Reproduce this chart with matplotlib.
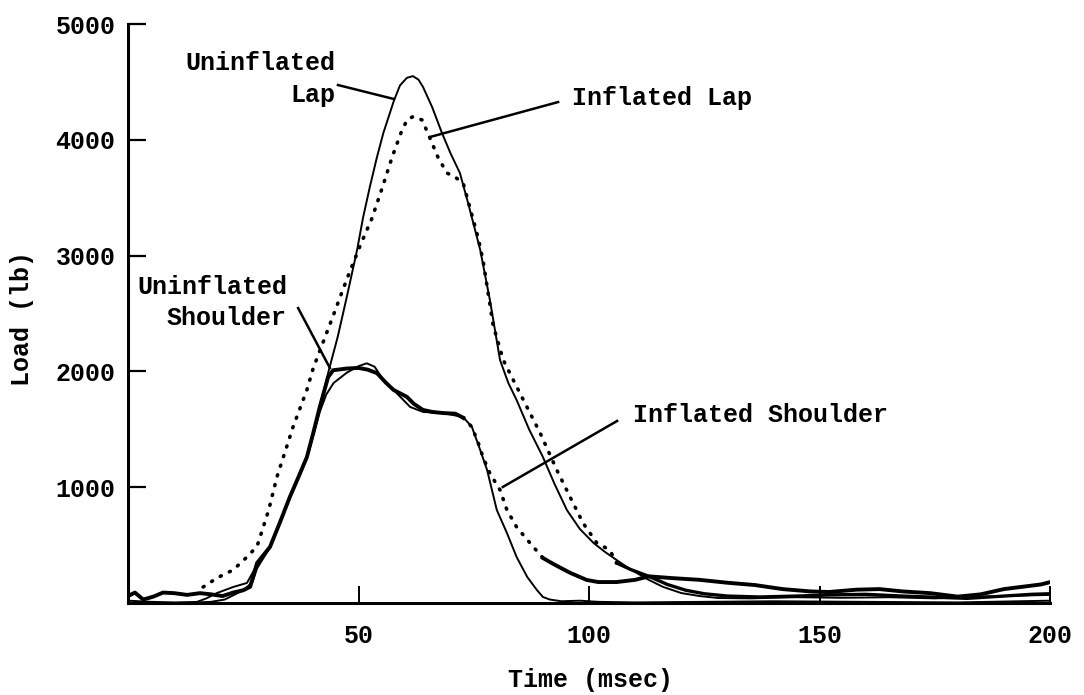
import numpy as np
import matplotlib
matplotlib.use("Agg")
import matplotlib.pyplot as plt

plt.rcParams['font.family'] = ['Liberation Mono', 'DejaVu Sans']
plt.rcParams['font.weight'] = 'bold'

# ---- data (time in msec, load in lb) ----
un_lap_t = [0, 5, 10, 15, 18, 21, 23, 25, 27, 28, 30.8, 33, 35, 37, 38.8, 40.2, 41.6, 43.5,
            45.5, 47.5, 49.7, 51, 52.5, 54, 55.4, 57.7, 59, 60.5, 61.8, 63, 64, 66, 68.1, 70,
            72, 74, 76.4, 78.5, 80.7, 82.5, 84.3, 87, 90, 92.5, 95.2, 98, 101, 103.5, 106, 109,
            113, 116, 120, 124, 128, 135, 145, 155, 165, 175, 185, 195, 200]
un_lap_L = [20, 10, 5, 5, 10, 30, 70, 110, 180, 300, 480, 700, 900, 1080, 1260, 1470, 1690, 2000,
            2300, 2650, 3050, 3330, 3600, 3850, 4060, 4340, 4470, 4535, 4550, 4520, 4456, 4280, 4059, 3880,
            3713, 3420, 3050, 2617, 2098, 1900, 1753, 1500, 1261, 1030, 803, 640, 518, 440, 371, 290,
            199, 140, 86, 60, 43, 40, 50, 45, 50, 40, 55, 65, 70]

in_lap_t = [16.3, 19.3, 22.8, 25.8, 28, 30.5, 32.3, 33.7, 35.8, 38.8, 40.2, 42.3, 44.5, 47.5,
            50.5, 52.9, 55.1, 57.3, 59.2, 60.5, 61.8, 63.8, 65.5, 67.3, 69.2, 70.9, 72.7, 75.9,
            77, 79.2, 81.4, 85, 89.4, 93, 95.9, 98.7, 101.7, 104.5, 106,
            109, 113, 117, 121, 125, 130, 137, 145, 152, 160, 168, 175, 182, 190, 196, 200]
in_lap_L = [138, 216, 285, 397, 490, 800, 1088, 1260, 1520, 1840, 2030, 2250, 2480, 2800,
            3100, 3320, 3580, 3851, 4059, 4170, 4200, 4171, 4015, 3843, 3713, 3679, 3627, 3161,
            2962, 2400, 2098, 1813, 1468, 1150, 915, 691, 518, 458, 345,
            290, 230, 160, 110, 80, 60, 52, 60, 70, 75, 60, 50, 40, 60, 75, 80]

in_sh_t = [0, 1.5, 3.3, 5.5, 7.6, 10, 12.8, 15.6, 18, 20.5, 22.8, 25, 26.5, 28, 30.8, 33, 35.1,
           37, 38.8, 40.2, 41.6, 43.4, 44.5, 47.5, 50, 52, 54, 56, 57.6, 60.5, 62, 64, 66, 68.4,
           71, 72.7, 74.6, 76, 77, 78.5, 80.7, 82.2, 84.3, 87.2, 90, 91.5, 94, 96, 99.5, 102,
           106, 110, 113, 118, 124, 130, 136, 142, 148, 152, 158, 163, 168, 174, 180, 185, 190,
           195, 198, 200]
in_sh_L = [60, 90, 30, 55, 90, 85, 70, 85, 75, 60, 90, 110, 140, 345, 484, 700, 915,
           1090, 1260, 1470, 1693, 1950, 2010, 2025, 2030, 2015, 1985, 1900, 1840, 1780, 1720, 1667, 1650, 1640,
           1635, 1600, 1520, 1380, 1260, 1120, 976, 803, 656, 518, 389, 354, 300, 259, 199, 181,
           181, 200, 230, 215, 200, 175, 155, 120, 100, 95, 115, 120, 100, 85, 55, 75, 120,
           145, 160, 180]

un_sh_t = [0, 10, 15, 17, 19.3, 22.8, 25.8, 28, 30.8, 35, 38.8, 41.6, 43, 44.6, 47.5, 50, 51.8,
           53.5, 55.4, 57.6, 61.2, 64, 68.4, 72.7, 74.6, 76.4, 77.9, 80, 82.2, 84.3, 86.6, 88.7,
           90, 91.5, 94, 98, 102, 110, 125, 140, 160, 180, 200]
un_sh_L = [0, 0, 10, 40, 86, 138, 173, 330, 480, 900, 1250, 1650, 1800, 1900, 1990, 2045, 2070,
           2040, 1925, 1840, 1693, 1650, 1640, 1606, 1520, 1321, 1148, 803, 604, 397, 225, 112,
           52, 30, 15, 20, 10, 5, 10, 15, 10, 5, 20]

xticks = [50, 100, 150, 200]
yticks = [1000, 2000, 3000, 4000, 5000]

W, H = 1084, 695
fig = plt.figure(figsize=(W / 100, H / 100), dpi=100)
ax = fig.add_axes([128 / W, (H - 603) / H, (1050 - 128) / W, (603 - 24) / H])

k = 'black'
dotted = (0, (0.3, 2.5))

# uninflated: thin solid
ax.plot(un_lap_t, un_lap_L, color=k, lw=1.4)
ax.plot(un_sh_t, un_sh_L, color=k, lw=1.4)

# inflated lap: dotted where it stands apart, solid in the tail
t = np.array(in_lap_t); L = np.array(in_lap_L)
m = t <= 106
ax.plot(t[m], L[m], color=k, lw=2.6, linestyle=dotted, dash_capstyle='round')
m = t >= 106
ax.plot(t[m], L[m], color=k, lw=2.4)

# inflated shoulder: thick solid, dotted on the fall
t = np.array(in_sh_t); L = np.array(in_sh_L)
m = t <= 72.7
ax.plot(t[m], L[m], color=k, lw=2.8, solid_joinstyle='round')
m = (t >= 72.7) & (t <= 91.5)
ax.plot(t[m], L[m], color=k, lw=2.6, linestyle=dotted, dash_capstyle='round')
m = t >= 90
ax.plot(t[m], L[m], color=k, lw=2.8, solid_joinstyle='round')

ax.set_xlim(0, 200)
ax.set_ylim(0, 5000)
for s in ['top', 'right']:
    ax.spines[s].set_visible(False)
for s in ['left', 'bottom']:
    ax.spines[s].set_linewidth(2.2)
ax.set_xticks(xticks)
ax.set_yticks(yticks)
ax.tick_params(axis='y', direction='in', length=13, width=1.6, pad=9, labelsize=18)
ax.tick_params(axis='x', direction='in', length=12, width=1.4, pad=15, labelsize=18)

fs = 18
ax.text(44.9, 4663, 'Uninflated', ha='right', va='center', fontsize=fs)
ax.text(44.9, 4387, 'Lap', ha='right', va='center', fontsize=fs)
ax.plot([45.55, 57.7], [4473, 4352], color=k, lw=1.8)

ax.text(96.3, 4361, 'Inflated Lap', ha='left', va='center', fontsize=fs)
ax.plot([93.3, 65.5], [4326, 4024], color=k, lw=1.8)

ax.text(34.5, 2729, 'Uninflated', ha='right', va='center', fontsize=fs)
ax.text(34.5, 2461, 'Shoulder', ha='right', va='center', fontsize=fs)
ax.plot([36.9, 43.8], [2547, 2029], color=k, lw=1.8)

ax.text(109.5, 1623, 'Inflated Shoulder', ha='left', va='center', fontsize=fs)
ax.plot([106.1, 81.3], [1572, 1002], color=k, lw=1.8)

fig.text(590 / W, 1 - 680 / H, 'Time (msec)', ha='center', va='center', fontsize=fs)
fig.text(22 / W, 1 - 318 / H, 'Load (lb)', ha='center', va='center', rotation=90, fontsize=fs)

fig.savefig('out.png', dpi=100)
